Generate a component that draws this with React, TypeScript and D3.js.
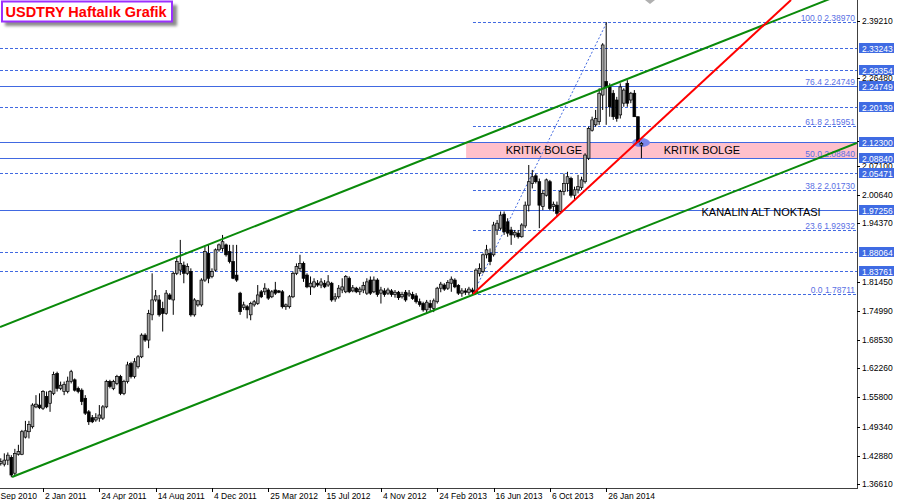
import React from 'react';
import * as d3 from 'd3';

const W = 897, H = 500;
const PLOT_R = 857, PLOT_B = 488;

// weekly bars, index 0 = 12 Sep 2010
const firstBar = 4;
const opens = [
  1.412, 1.410, 1.419, 1.425, 1.390, 1.432, 1.432, 1.470, 1.482, 1.493,
  1.537, 1.541, 1.534, 1.560, 1.545, 1.567, 1.611, 1.578, 1.571, 1.571,
  1.593, 1.597, 1.578, 1.574, 1.556, 1.526, 1.513, 1.508, 1.512, 1.512,
  1.537, 1.593, 1.578, 1.589, 1.604, 1.567, 1.593, 1.633, 1.604, 1.626,
  1.648, 1.696, 1.685, 1.741, 1.774, 1.774, 1.755, 1.744, 1.785, 1.774,
  1.833, 1.840, 1.851, 1.833, 1.837, 1.741, 1.763, 1.763, 1.818, 1.877,
  1.826, 1.840, 1.885, 1.888, 1.896, 1.881, 1.859, 1.829, 1.789, 1.757,
  1.759, 1.741, 1.763, 1.766, 1.792, 1.792, 1.796, 1.781, 1.796, 1.794,
  1.792, 1.759, 1.759, 1.781, 1.833, 1.844, 1.855, 1.829, 1.803, 1.803,
  1.811, 1.807, 1.811, 1.807,
  1.811, 1.776, 1.781, 1.796, 1.792, 1.822, 1.794, 1.800, 1.792, 1.796,
  1.789, 1.818, 1.792, 1.818, 1.789, 1.794, 1.789, 1.794, 1.786, 1.791,
  1.781, 1.791, 1.785, 1.786, 1.783, 1.770, 1.766, 1.752, 1.766, 1.755,
  1.770, 1.800, 1.807, 1.800, 1.811, 1.818, 1.806, 1.789, 1.794, 1.791,
  1.796, 1.792, 1.833, 1.837, 1.874, 1.877, 1.874, 1.929, 1.933, 1.964,
  1.947, 1.929, 1.918, 1.922, 1.914, 1.938, 1.984, 2.032, 2.049, 2.036,
  1.981, 2.006, 2.036, 1.981, 1.984, 1.970, 2.014, 2.032, 2.043, 2.006,
  2.018, 2.023, 2.036, 2.088, 2.150, 2.162, 2.169, 2.228, 2.258, 2.246,
  2.232, 2.217, 2.184, 2.210, 2.254, 2.217, 2.232, 2.180, 2.117,
];
const highs = [
  1.423, 1.434, 1.436, 1.430, 1.444, 1.453, 1.486, 1.506, 1.506, 1.545,
  1.563, 1.567, 1.574, 1.571, 1.574, 1.615, 1.615, 1.593, 1.593, 1.604,
  1.619, 1.600, 1.582, 1.578, 1.563, 1.530, 1.519, 1.523, 1.541, 1.541,
  1.597, 1.597, 1.597, 1.608, 1.608, 1.597, 1.637, 1.637, 1.645, 1.652,
  1.700, 1.700, 1.752, 1.833, 1.796, 1.785, 1.770, 1.796, 1.789, 1.837,
  1.870, 1.907, 1.859, 1.855, 1.844, 1.778, 1.774, 1.822, 1.892, 1.896,
  1.844, 1.888, 1.899, 1.918, 1.899, 1.896, 1.896, 1.896, 1.792, 1.770,
  1.763, 1.770, 1.774, 1.807, 1.796, 1.811, 1.800, 1.796, 1.814, 1.796,
  1.796, 1.766, 1.785, 1.837, 1.855, 1.874, 1.859, 1.833, 1.826, 1.822,
  1.818, 1.822, 1.818, 1.829,
  1.814, 1.789, 1.807, 1.822, 1.829, 1.826, 1.807, 1.803, 1.803, 1.814,
  1.822, 1.826, 1.826, 1.822, 1.803, 1.800, 1.801, 1.798, 1.796, 1.794,
  1.792, 1.796, 1.796, 1.792, 1.789, 1.777, 1.770, 1.774, 1.774, 1.777,
  1.803, 1.814, 1.811, 1.818, 1.826, 1.822, 1.809, 1.800, 1.800, 1.803,
  1.801, 1.844, 1.855, 1.877, 1.896, 1.888, 1.947, 1.951, 1.970, 1.970,
  1.955, 1.936, 1.929, 1.929, 1.944, 1.992, 2.073, 2.062, 2.054, 2.043,
  2.018, 2.043, 2.040, 1.992, 1.992, 2.018, 2.054, 2.058, 2.047, 2.025,
  2.051, 2.047, 2.099, 2.158, 2.180, 2.195, 2.243, 2.343, 2.3897, 2.254,
  2.239, 2.224, 2.254, 2.243, 2.261, 2.235, 2.239, 2.180, 2.124,
];
const lows = [
  1.407, 1.405, 1.408, 1.381, 1.385, 1.429, 1.430, 1.467, 1.467, 1.489,
  1.534, 1.532, 1.530, 1.534, 1.526, 1.563, 1.571, 1.574, 1.563, 1.567,
  1.589, 1.571, 1.567, 1.541, 1.519, 1.497, 1.501, 1.504, 1.504, 1.508,
  1.534, 1.578, 1.574, 1.585, 1.563, 1.563, 1.589, 1.600, 1.600, 1.622,
  1.645, 1.681, 1.667, 1.729, 1.770, 1.737, 1.704, 1.741, 1.774, 1.741,
  1.829, 1.829, 1.811, 1.829, 1.737, 1.737, 1.759, 1.759, 1.814, 1.811,
  1.822, 1.837, 1.881, 1.881, 1.870, 1.855, 1.820, 1.814, 1.741, 1.752,
  1.733, 1.729, 1.759, 1.763, 1.778, 1.785, 1.774, 1.778, 1.785, 1.789,
  1.755, 1.752, 1.755, 1.778, 1.829, 1.837, 1.814, 1.800, 1.785, 1.800,
  1.803, 1.800, 1.800, 1.803,
  1.770, 1.770, 1.777, 1.789, 1.789, 1.789, 1.791, 1.789, 1.785, 1.789,
  1.785, 1.785, 1.789, 1.781, 1.766, 1.781, 1.785, 1.781, 1.779, 1.774,
  1.777, 1.770, 1.781, 1.774, 1.766, 1.759, 1.748, 1.743, 1.748, 1.747,
  1.766, 1.791, 1.794, 1.796, 1.792, 1.800, 1.785, 1.781, 1.785, 1.785,
  1.7871, 1.788, 1.826, 1.833, 1.866, 1.851, 1.870, 1.918, 1.929, 1.918,
  1.914, 1.896, 1.912, 1.910, 1.912, 1.933, 1.970, 2.021, 2.032, 1.933,
  1.973, 2.003, 1.973, 1.970, 1.959, 1.966, 2.006, 2.014, 2.001, 1.995,
  2.010, 2.018, 2.032, 2.084, 2.147, 2.158, 2.162, 2.195, 2.162, 2.180,
  2.173, 2.169, 2.176, 2.202, 2.202, 2.210, 2.180, 2.124, 2.088,
];
const closes = [
  1.416, 1.419, 1.430, 1.386, 1.434, 1.438, 1.482, 1.484, 1.498, 1.541,
  1.543, 1.535, 1.571, 1.537, 1.571, 1.609, 1.578, 1.585, 1.587, 1.594,
  1.615, 1.574, 1.571, 1.549, 1.523, 1.504, 1.504, 1.513, 1.519, 1.537,
  1.593, 1.582, 1.593, 1.604, 1.567, 1.593, 1.630, 1.604, 1.637, 1.648,
  1.696, 1.685, 1.744, 1.774, 1.783, 1.741, 1.744, 1.789, 1.776, 1.833,
  1.859, 1.855, 1.833, 1.848, 1.741, 1.774, 1.772, 1.818, 1.881, 1.822,
  1.837, 1.885, 1.896, 1.903, 1.874, 1.859, 1.822, 1.818, 1.748, 1.763,
  1.752, 1.766, 1.770, 1.785, 1.781, 1.800, 1.778, 1.792, 1.789, 1.791,
  1.759, 1.763, 1.781, 1.833, 1.848, 1.855, 1.822, 1.803, 1.811, 1.814,
  1.807, 1.814, 1.803, 1.814,
  1.774, 1.781, 1.800, 1.803, 1.826, 1.792, 1.801, 1.792, 1.798, 1.806,
  1.814, 1.789, 1.818, 1.786, 1.796, 1.786, 1.796, 1.786, 1.791, 1.779,
  1.786, 1.774, 1.789, 1.777, 1.770, 1.764, 1.752, 1.769, 1.757, 1.772,
  1.800, 1.809, 1.798, 1.813, 1.820, 1.803, 1.789, 1.794, 1.791, 1.798,
  1.792, 1.840, 1.844, 1.874, 1.885, 1.859, 1.940, 1.944, 1.962, 1.925,
  1.922, 1.918, 1.924, 1.914, 1.940, 1.984, 2.036, 2.047, 2.036, 1.984,
  2.010, 2.040, 1.977, 1.986, 1.966, 2.014, 2.032, 2.047, 2.006, 2.018,
  2.025, 2.040, 2.095, 2.154, 2.173, 2.176, 2.232, 2.339, 2.247, 2.202,
  2.180, 2.176, 2.246, 2.239, 2.210, 2.232, 2.180, 2.124, 2.121,
];

const dateTicks = [
  '12 Sep 2010', '2 Jan 2011', '24 Apr 2011', '14 Aug 2011', '4 Dec 2011', '25 Mar 2012',
  '15 Jul 2012', '4 Nov 2012', '24 Feb 2013', '16 Jun 2013', '6 Oct 2013', '26 Jan 2014',
];
const barsPerDateTick = 16;
const priceTicks = [2.3921, 2.2648, 2.1256, 2.071, 2.0064, 1.9437, 1.8145, 1.7499, 1.6853, 1.6226, 1.558, 1.4934, 1.4288, 1.3661];
const solidLevels = [2.24749, 2.123, 2.0884, 1.97256];
const dashedLevels = [2.33243, 2.28354, 2.20139, 2.05471, 1.88064, 1.83761];
const markedPrices = [2.33243, 2.28354, 2.24749, 2.20139, 2.123, 2.0884, 2.05471, 1.97256, 1.88064, 1.83761];
const fibRatios = ['100.0', '76.4', '61.8', '50.0', '38.2', '23.6', '0.0'];
const fibPrices = [2.3897, 2.24749, 2.15951, 2.0884, 2.0173, 1.92932, 1.78711];
const fibStartBar = 138.15, fibEndBar = 176.2;
const channelUpper: [number, number][] = [[3.78, 1.714], [247.2, 2.4647]];
const channelLower: [number, number][] = [[7.2, 1.3816], [247.2, 2.1217]];
const supportLine: [number, number][] = [[138.15, 1.78711], [228.5, 2.4386]];
const zoneTop = 2.123, zoneBottom = 2.0884, zoneStartBar = 136.2;
const zoneLabel = 'KRITIK BOLGE';
const zoneLabelBars = [158.3, 203.2];
const channelLabel = 'KANALIN ALT NOKTASI';
const channelLabelAt: [number, number] = [220.0, 1.9688];
const markerAt: [number, number] = [185.9, 2.1226];
const title = 'USDTRY Haftalık Grafik';

const FONT = 'Liberation Sans, Arial, sans-serif';
const BLUE = '#4169e1';

export default function App() {
  const x = d3.scaleLinear().domain([0, 176]).range([-13.3, 606.2]);
  const y = d3.scaleLinear().domain([1.3661, 2.3921]).range([484, 21]);
  const line = d3.line<[number, number]>().x(d => x(d[0])).y(d => y(d[1]));

  const candles = opens.map((o, k) => ({ i: firstBar + k, o, h: highs[k], l: lows[k], c: closes[k] }));

  return (
    <svg width={W} height={H} style={{ position: 'absolute', left: 0, top: 0, background: '#fff' }}
      fontFamily={FONT}>
      <defs>
        <clipPath id="plot"><rect x={0} y={0} width={PLOT_R} height={PLOT_B} /></clipPath>
        <filter id="shadow" x="-10%" y="-30%" width="130%" height="180%">
          <feGaussianBlur stdDeviation="1.6" />
        </filter>
      </defs>
      <rect x={0} y={0} width={W} height={H} fill="#fff" />
      <g clipPath="url(#plot)">
        {/* critical zone */}
        <rect x={x(zoneStartBar)} y={y(zoneTop)} width={PLOT_R - x(zoneStartBar)} height={y(zoneBottom) - y(zoneTop)} fill="#ffc0cb" />
        {/* dashed levels */}
        {dashedLevels.map((p, k) => (
          <line key={'d' + k} x1={0} x2={PLOT_R} y1={Math.round(y(p)) + 0.5} y2={Math.round(y(p)) + 0.5}
            stroke={BLUE} strokeWidth={1} strokeDasharray="3,2" />
        ))}
        {/* fib levels */}
        {fibPrices.map((p, k) => (
          <line key={'f' + k} x1={x(fibStartBar)} x2={PLOT_R} y1={Math.round(y(p)) + 0.5} y2={Math.round(y(p)) + 0.5}
            stroke={BLUE} strokeWidth={1} strokeDasharray="3,2" />
        ))}
        {/* solid levels */}
        {solidLevels.map((p, k) => (
          <line key={'s' + k} x1={0} x2={PLOT_R} y1={Math.round(y(p)) + 0.5} y2={Math.round(y(p)) + 0.5}
            stroke={BLUE} strokeWidth={1} />
        ))}
        {/* fib diagonal */}
        <path d={line([[fibStartBar, fibPrices[6]], [fibEndBar, fibPrices[0]]]) || ''} stroke={BLUE} strokeWidth={1}
          strokeDasharray="2,2" fill="none" />
        {/* fib labels */}
        {fibPrices.map((p, k) => (
          <text key={'fl' + k} x={855} y={Math.round(y(p)) - 1.5} textAnchor="end" fontSize={8.5} fill="#5a70e4">
            {fibRatios[k] + ' ' + p.toFixed(5)}
          </text>
        ))}
        {/* marker ellipse */}
        <ellipse cx={x(markerAt[0])} cy={y(markerAt[1])} rx={9} ry={4.5} fill="#7b86ea" />
        {/* candles */}
        {candles.map(d => {
          const cx = x(d.i);
          const up = d.c >= d.o;
          const top = y(Math.max(d.o, d.c));
          const bot = y(Math.min(d.o, d.c));
          return (
            <g key={d.i}>
              <line x1={cx} x2={cx} y1={y(d.h)} y2={y(d.l)} stroke="#000" strokeWidth={1} />
              <rect x={cx - 1.4} y={top} width={2.8} height={Math.max(1, bot - top)}
                fill={up ? '#a0a0a0' : '#000'} stroke="#000" strokeWidth={0.7} />
            </g>
          );
        })}
        {/* channel + support lines */}
        <path d={line(channelUpper) || ''} stroke="#0a8a0a" strokeWidth={2} fill="none" />
        <path d={line(channelLower) || ''} stroke="#0a8a0a" strokeWidth={2} fill="none" />
        <path d={line(supportLine) || ''} stroke="#ff0000" strokeWidth={2} fill="none" />
        {/* labels */}
        {zoneLabelBars.map((b, k) => (
          <text key={'z' + k} x={x(b)} y={y((zoneTop + zoneBottom) / 2) + 4} textAnchor="middle" fontSize={11} fill="#000">
            {zoneLabel}
          </text>
        ))}
        <text x={x(channelLabelAt[0])} y={y(channelLabelAt[1]) + 4} textAnchor="middle" fontSize={11} fill="#000">
          {channelLabel}
        </text>
        {/* chart shift marker */}
        <path d="M645,0 L655,0 L650,4 Z" fill="#b0b0b0" />
      </g>

      {/* axes */}
      <line x1={0} x2={PLOT_R} y1={PLOT_B + 0.5} y2={PLOT_B + 0.5} stroke="#404040" strokeWidth={1} />
      <line x1={PLOT_R + 0.5} x2={PLOT_R + 0.5} y1={0} y2={PLOT_B + 1} stroke="#404040" strokeWidth={1} />
      {priceTicks.map((p, k) => (
        <g key={'pt' + k}>
          <line x1={PLOT_R} x2={PLOT_R + 3} y1={Math.round(y(p)) + 0.5} y2={Math.round(y(p)) + 0.5} stroke="#000" />
          <text x={862} y={y(p) + 3} fontSize={8.5} fill="#000">{p.toFixed(5)}</text>
        </g>
      ))}
      {markedPrices.map((p, k) => (
        <g key={'mp' + k}>
          <rect x={859} y={Math.round(y(p)) - 5} width={35} height={10} fill="#3f6be3" />
          <text x={862} y={Math.round(y(p)) + 3.5} fontSize={8.5} fill="#fff">{p.toFixed(5)}</text>
        </g>
      ))}
      {dateTicks.map((t, k) => {
        const tx = x(k * barsPerDateTick);
        return (
          <g key={'dt' + k}>
            {tx > 0 && <line x1={Math.round(tx) + 0.5} x2={Math.round(tx) + 0.5} y1={PLOT_B} y2={PLOT_B + 4} stroke="#000" />}
            <text x={tx + 2} y={499} fontSize={8.5} fill="#000">{t}</text>
          </g>
        );
      })}

      {/* title box */}
      <rect x={5} y={5} width={172} height={21} fill="#8a8a8a" filter="url(#shadow)" />
      <rect x={2} y={1.5} width={170} height={20} fill="#fff" stroke="#9b30ff" strokeWidth={2} />
      <text x={5.5} y={17.3} fontSize={14.5} fontWeight="bold" fill="#ff0000">{title}</text>
    </svg>
  );
}
